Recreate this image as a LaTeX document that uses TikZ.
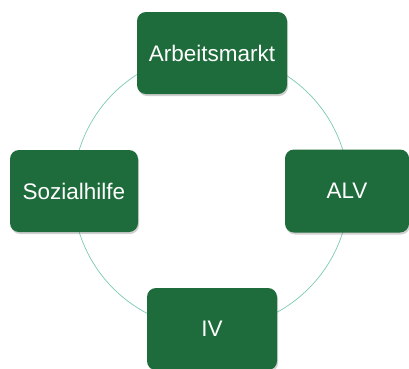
\documentclass[tikz,border=0pt]{standalone}
\usepackage{fontspec}
\setmainfont{Liberation Sans}
\usetikzlibrary{shadows}
\definecolor{boxgreen}{HTML}{1E6B3B}
\definecolor{ringcol}{HTML}{7CCBB5}
\begin{document}
\begin{tikzpicture}[x=1pt,y=-1pt,
  box/.style={draw=none,fill=boxgreen,rounded corners=9pt,text=white,
    font=\fontsize{22.5}{26}\selectfont,inner sep=0pt,
    drop shadow={shadow xshift=1pt,shadow yshift=-2pt,opacity=0.3,fill=black!60}}]
\useasboundingbox (0,0) rectangle (409,368);
\fill[white] (0,0) rectangle (409,368);
\coordinate (c) at (211,191);
\draw[ringcol,line width=0.7pt] (c) circle[radius=138];
\node[box,minimum width=150pt,minimum height=82pt] (arb) at (212,53) {Arbeitsmarkt};
\node[box,minimum width=124pt,minimum height=83pt] (alv) at (347,191) {ALV};
\node[box,minimum width=128pt,minimum height=82pt] (soz) at (74,191) {Sozialhilfe};
\node[box,minimum width=130pt,minimum height=82pt] (iv) at (212,329) {IV};
\end{tikzpicture}
\end{document}
